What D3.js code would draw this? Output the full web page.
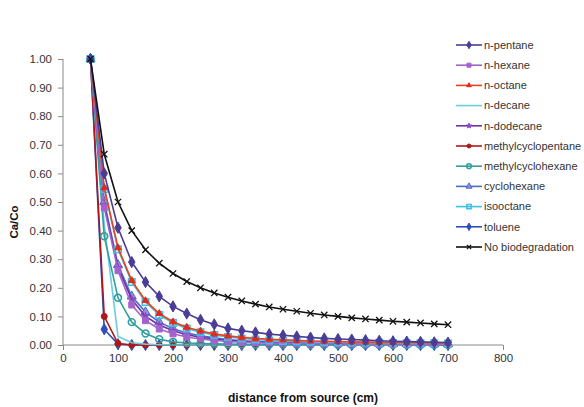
<!DOCTYPE html>
<html>
<head>
<meta charset="utf-8">
<script src="https://cdn.jsdelivr.net/npm/d3@7"></script>
<style>
    body { margin: 0; background: #fff; }
    svg { display: block; font-family: "Liberation Sans", Arial, sans-serif; }
    .axis path, .axis line { stroke: #8a8a8a; }
    .axis text { fill: #333; font-size: 11.5px; }
    .legend text { fill: #333; font-size: 11px; }
</style>
</head>
<body>
<svg id="chart" width="584" height="407"></svg>
<script>
    // distances (cm)
    const distance = [50, 75, 100, 125, 150, 175, 200, 225, 250, 275, 300, 325, 350, 375,
        400, 425, 450, 475, 500, 525, 550, 575, 600, 625, 650, 675, 700];

    const n_pentane = [1.00, 0.60, 0.41, 0.29, 0.22, 0.17, 0.135, 0.11, 0.088, 0.072, 0.058, 0.050, 0.044, 0.038,
        0.034, 0.030, 0.026, 0.023, 0.021, 0.019, 0.017, 0.015, 0.013, 0.012, 0.011, 0.0095, 0.0085];
    const n_hexane = [1.00, 0.48, 0.26, 0.14, 0.085, 0.056, 0.039, 0.028, 0.021, 0.016, 0.012, 0.010, 0.008, 0.007,
        0.006, 0.005, 0.0045, 0.004, 0.0035, 0.003, 0.003, 0.0025, 0.0025, 0.002, 0.002, 0.002, 0.002];
    const n_octane = [1.00, 0.55, 0.34, 0.225, 0.155, 0.11, 0.081, 0.062, 0.049, 0.039, 0.032, 0.027, 0.023, 0.020,
        0.018, 0.016, 0.014, 0.013, 0.012, 0.011, 0.010, 0.0095, 0.009, 0.0085, 0.008, 0.0075, 0.007];
    const n_decane = [1.00, 0.42, 0.03, 0.008, 0.003, 0.001, 0, 0, 0, 0, 0, 0, 0, 0,
        0, 0, 0, 0, 0, 0, 0, 0, 0, 0, 0, 0, 0];
    const n_dodecane = [1.00, 0.49, 0.27, 0.16, 0.10, 0.07, 0.05, 0.036, 0.027, 0.021, 0.016, 0.013, 0.010, 0.008,
        0.007, 0.006, 0.005, 0.0045, 0.004, 0.0035, 0.003, 0.003, 0.0025, 0.0025, 0.002, 0.002, 0.002];
    const methylcyclopentane = [1.00, 0.10, 0.005, 0, 0, 0, 0, 0, 0, 0, 0, 0, 0, 0,
        0, 0, 0, 0, 0, 0, 0, 0, 0, 0, 0, 0, 0];
    const methylcyclohexane = [1.00, 0.38, 0.165, 0.08, 0.04, 0.02, 0.011, 0.007, 0.005, 0.004, 0.003, 0.0025, 0.002, 0.002,
        0.0015, 0.0015, 0.001, 0.001, 0.001, 0.001, 0.001, 0.001, 0.001, 0.001, 0.001, 0.001, 0.001];
    const cyclohexane = [1.00, 0.50, 0.28, 0.17, 0.115, 0.08, 0.057, 0.042, 0.032, 0.025, 0.019, 0.015, 0.012, 0.010,
        0.009, 0.008, 0.007, 0.006, 0.0055, 0.005, 0.0045, 0.004, 0.004, 0.0035, 0.0035, 0.003, 0.003];
    const isooctane = [1.00, 0.545, 0.335, 0.22, 0.15, 0.105, 0.077, 0.058, 0.045, 0.035, 0.028, 0.023, 0.019, 0.016,
        0.014, 0.012, 0.011, 0.010, 0.009, 0.0085, 0.008, 0.0075, 0.007, 0.0065, 0.006, 0.006, 0.0055];
    const toluene = [1.00, 0.055, 0.003, 0, 0, 0, 0, 0, 0, 0, 0, 0, 0, 0,
        0, 0, 0, 0, 0, 0, 0, 0, 0, 0, 0, 0, 0];
    const no_biodegradation = [1.00, 0.667, 0.50, 0.40, 0.333, 0.286, 0.25, 0.222, 0.20, 0.182, 0.167, 0.154, 0.143, 0.133,
        0.125, 0.118, 0.111, 0.105, 0.10, 0.095, 0.091, 0.087, 0.083, 0.08, 0.077, 0.074, 0.071];

    const series_names = ['n-pentane', 'n-hexane', 'n-octane', 'n-decane', 'n-dodecane', 'methylcyclopentane',
        'methylcyclohexane', 'cyclohexane', 'isooctane', 'toluene', 'No biodegradation'];
    const series_values = [n_pentane, n_hexane, n_octane, n_decane, n_dodecane, methylcyclopentane,
        methylcyclohexane, cyclohexane, isooctane, toluene, no_biodegradation];

    const x_ticks = [0, 100, 200, 300, 400, 500, 600, 700, 800];
    const y_ticks = [0, 0.1, 0.2, 0.3, 0.4, 0.5, 0.6, 0.7, 0.8, 0.9, 1.0];

    // style per series: line colour, marker type, marker fill, marker stroke
    const styles = [
        {color: '#4b3c96', sym: d3.symbolDiamond, fill: '#4b3c96', stroke: '#4b3c96', size: 36},
        {color: '#a463cc', sym: d3.symbolSquare, fill: '#a463cc', stroke: '#a463cc', size: 36},
        {color: '#f0401e', sym: d3.symbolTriangle, fill: '#e02a1a', stroke: '#e02a1a', size: 20},
        {color: '#6ccce0', sym: null},
        {color: '#7030a8', sym: d3.symbolStar, fill: '#8a48c0', stroke: '#8a48c0', size: 18},
        {color: '#b01818', sym: d3.symbolCircle, fill: '#b01818', stroke: '#b01818', size: 28},
        {color: '#2f9e9e', sym: d3.symbolCircle, fill: 'none', stroke: '#2f9e9e', size: 38},
        {color: '#4a6cc4', sym: d3.symbolTriangle, fill: '#9a8ed8', stroke: '#4a6cc4', size: 36},
        {color: '#3cc0e0', sym: d3.symbolSquare, fill: 'none', stroke: '#3cc0e0', size: 42},
        {color: '#2f4fb8', sym: d3.symbolDiamond, fill: '#2f4fb8', stroke: '#2f4fb8', size: 36},
        {color: '#111', sym: d3.symbolCross, fill: '#111', stroke: '#111', size: 40, cross: true}
    ];

    const svg = d3.select('#chart');

    let x = d3.scaleLinear().domain([0, 800]).range([63, 503]);
    let y = d3.scaleLinear().domain([0, 1]).range([345, 59]);

    svg.append('g')
        .attr('class', 'axis')
        .attr('transform', 'translate(0,' + y(0) + ')')
        .call(d3.axisBottom(x).tickValues(x_ticks).tickSize(5).tickPadding(4).tickFormat(d3.format('d')))
        .call(g => g.select('.domain').attr('d', 'M' + x(0) + ',0H' + x(800)));

    svg.append('g')
        .attr('class', 'axis')
        .attr('transform', 'translate(' + x(0) + ',0)')
        .call(d3.axisLeft(y).tickValues(y_ticks).tickSize(5).tickPadding(6).tickFormat(d3.format('.2f')))
        .call(g => g.select('.domain').attr('d', 'M0,' + y(0) + 'V' + y(1)));

    svg.append('text')
        .attr('x', 303).attr('y', 402)
        .attr('text-anchor', 'middle')
        .style('font-weight', 'bold').style('font-size', '12px').style('fill', '#111')
        .text('distance from source (cm)');

    svg.append('text')
        .attr('transform', 'translate(18,222) rotate(-90)')
        .attr('text-anchor', 'middle')
        .style('font-weight', 'bold').style('font-size', '11.5px').style('fill', '#111')
        .text('Ca/Co');

    let line = d3.line()
        .x(d => x(d[0]))
        .y(d => y(d[1]));

    function drawMarker(g, st, px, py, scale) {
        if (!st.sym) return;
        let s = st.size * (scale || 1);
        if (st.cross) {
            let r = Math.sqrt(s) / 2;
            g.append('path')
                .attr('d', 'M' + (px - r) + ',' + (py - r) + 'L' + (px + r) + ',' + (py + r) +
                    'M' + (px - r) + ',' + (py + r) + 'L' + (px + r) + ',' + (py - r))
                .attr('stroke', st.stroke).attr('stroke-width', 1.3).attr('fill', 'none');
            return;
        }
        g.append('path')
            .attr('d', d3.symbol().type(st.sym).size(s)())
            .attr('transform', 'translate(' + px + ',' + py + ')')
            .attr('fill', st.fill)
            .attr('stroke', st.stroke)
            .attr('stroke-width', st.fill === 'none' ? 1.5 : 1);
    }

    // draw in reverse so the first series stay on top, black last
    let order = [9, 5, 3, 6, 7, 4, 1, 8, 2, 0, 10];
    order.forEach(function (i) {
        let st = styles[i];
        let pts = distance.map((d, j) => [d, series_values[i][j]]);
        let g = svg.append('g');
        g.append('path')
            .datum(pts)
            .attr('d', line)
            .attr('fill', 'none')
            .attr('stroke', st.color)
            .attr('stroke-width', 1.6);
        pts.forEach(p => drawMarker(g, st, x(p[0]), y(p[1])));
    });

    // legend
    let legend = svg.append('g').attr('class', 'legend');
    series_names.forEach(function (name, i) {
        let st = styles[i];
        let ly = 45 + i * 20.2;
        let row = legend.append('g');
        row.append('line')
            .attr('x1', 456).attr('x2', 482)
            .attr('y1', ly).attr('y2', ly)
            .attr('stroke', st.color).attr('stroke-width', 1.6);
        drawMarker(row, st, 469, ly, 0.45);
        row.append('text')
            .attr('x', 484).attr('y', ly).attr('dy', '0.35em')
            .text(name);
    });
</script>
</body>
</html>
